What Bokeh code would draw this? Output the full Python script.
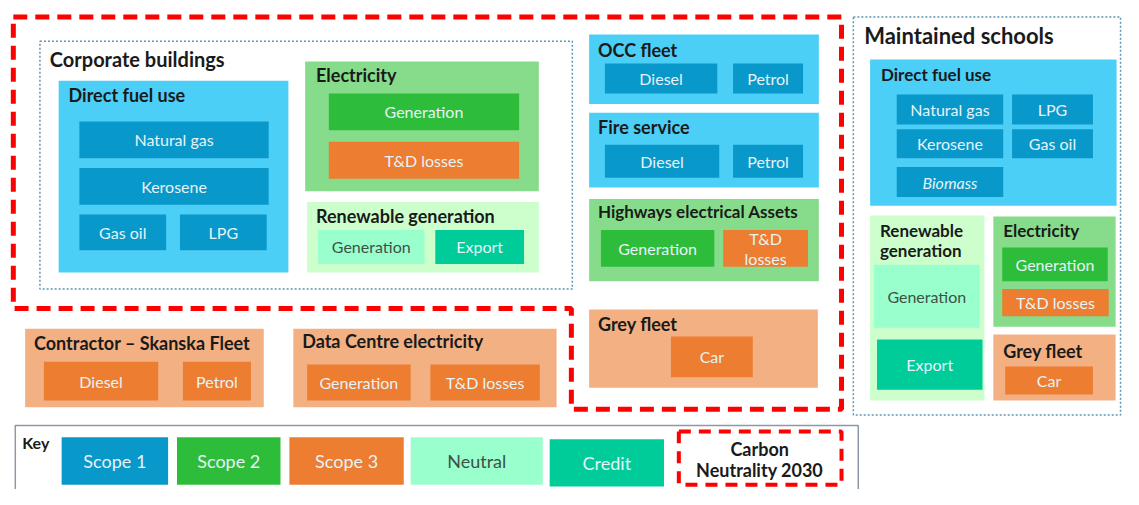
from bokeh.plotting import figure
from bokeh.models import Range1d, ColumnDataSource
from bokeh.core.properties import value
from bokeh.embed import file_html
from bokeh.resources import INLINE

FONT = "Lato"

# ---- palette (category -> colour) ----
fills = {
    "scope1": "#0898C9", "scope2": "#2EBD3A", "scope3": "#ED7D31",
    "neutral": "#99FFCC", "credit": "#00CC99",
    "blue_c": "#4CCFF7", "green_c": "#86DC8A", "orange_c": "#F3B083", "mint_c": "#CCFFCC",
}

# ---- container boxes ----
cont_kind = ["blue_c", "green_c", "mint_c", "blue_c", "blue_c", "green_c", "orange_c",
             "blue_c", "mint_c", "green_c", "orange_c", "orange_c", "orange_c"]
cont_x0 = [59, 309, 311, 597, 597, 597, 597, 882, 882, 1007, 1007, 25, 297]
cont_x1 = [292, 546, 546, 830, 830, 830, 829, 1132, 998, 1131, 1131, 267, 564]
cont_y0 = [83, 63, 208, 35, 116, 205, 319, 61, 222, 223, 345, 339, 339]
cont_y1 = [281, 197, 281, 107, 193, 290, 400, 212, 413, 337, 413, 420, 420]

# ---- leaf boxes ----
leaf_label = ["Natural gas", "Kerosene", "Gas oil", "LPG",
              "Diesel", "Petrol", "Diesel", "Petrol",
              "Natural gas", "LPG", "Kerosene", "Gas oil", "Biomass",
              "Generation", "Generation", "Generation",
              "T&D losses", "T&D\nlosses", "Car", "T&D losses", "Car",
              "Diesel", "Petrol", "Generation", "T&D losses",
              "Generation", "Generation", "Export", "Export",
              "Scope 1", "Scope 2", "Scope 3", "Neutral", "Credit"]
leaf_kind = ["scope1"] * 13 + ["scope2"] * 3 + ["scope3"] * 9 + ["neutral"] * 2 + ["credit"] * 2 + \
            ["scope1", "scope2", "scope3", "neutral", "credit"]
leaf_x0 = [80, 80, 80, 182, 613, 743, 613, 743, 909, 1026, 909, 1026, 909,
           333, 609, 1016, 333, 733, 680, 1016, 1019, 44, 185, 311, 436,
           322, 886, 441, 889, 62, 179, 293, 416, 557]
leaf_x1 = [272, 272, 168, 270, 727, 814, 729, 814, 1017, 1108, 1017, 1108, 1017,
           526, 724, 1123, 526, 819, 763, 1124, 1108, 160, 254, 416, 547,
           430, 993, 531, 996, 170, 284, 409, 550, 673]
leaf_y0 = [125, 173, 221, 221, 65, 65, 149, 149, 97, 97, 133, 133, 172,
           96, 237, 255, 146, 237, 347, 298, 378, 373, 373, 376, 376,
           237, 273, 237, 350, 451, 451, 451, 451, 453]
leaf_y1 = [163, 211, 258, 258, 96, 96, 183, 183, 128, 128, 163, 163, 203,
           134, 275, 290, 184, 275, 389, 326, 407, 413, 413, 413, 413,
           272, 338, 272, 402, 500, 500, 500, 500, 502]

# ---- section titles ----
title_text = ["Corporate buildings", "Direct fuel use", "Electricity", "Renewable generation",
              "OCC fleet", "Fire service", "Highways electrical Assets", "Grey fleet",
              "Maintained schools", "Direct fuel use", "Renewable", "generation",
              "Electricity", "Grey fleet", "Contractor \u2013 Skanska Fleet",
              "Data Centre electricity", "Key"]
title_x = [50, 69, 320, 320, 606, 606, 606, 606, 876, 893, 892, 892, 1017, 1017, 34, 306, 22]
title_y = [60, 98, 77, 223, 51, 131, 218, 334, 36, 76, 238, 258, 238, 362, 354, 352, 456]
title_size = ["20px", "18px", "18px", "18px", "18px", "18px", "17px", "18px",
              "22px", "17px", "17px", "17px", "17px", "18px", "18px", "18px", "16px"]

# ---- outlines ----
dotted_x0 = [40, 865]
dotted_x1 = [580, 1136]
dotted_y0 = [42, 17]
dotted_y1 = [298, 428]
red_x = [13, 853, 853, 579, 579, 13, 13]
red_y = [17, 17, 422, 422, 318, 318, 17]
cn_x = [688, 853, 853, 688, 688]
cn_y = [445, 445, 500, 500, 445]

p = figure(width=1123, height=489, x_range=Range1d(0, 1139), y_range=Range1d(505, 0),
           output_backend="svg", toolbar_location=None, min_border=0)
p.axis.visible = False
p.grid.visible = False
p.outline_line_color = None
p.background_fill_color = "white"

# key box
p.quad(left=[15], right=[870], top=[439], bottom=[512], fill_color="white",
       line_color="#8C99A6", line_width=1.5)

# dotted section frames
p.quad(left=dotted_x0, right=dotted_x1, top=dotted_y0, bottom=dotted_y1, fill_color=None,
       line_color="#5B97B5", line_width=1.5, line_dash="2 2")

# containers
p.quad(source=ColumnDataSource(dict(l=cont_x0, r=cont_x1, t=cont_y0, b=cont_y1,
                                    c=[fills[k] for k in cont_kind])),
       left="l", right="r", top="t", bottom="b", fill_color="c", line_color=None)

# leaves
txt_col = ["#3E5149" if k == "neutral" else "#E6F3F8" for k in leaf_kind]
n = len(leaf_label)
lsrc = ColumnDataSource(dict(l=leaf_x0, r=leaf_x1, t=leaf_y0, b=leaf_y1,
                             c=[fills[k] for k in leaf_kind],
                             xm=[(a + b) / 2 for a, b in zip(leaf_x0, leaf_x1)],
                             ym=[(a + b) / 2 for a, b in zip(leaf_y0, leaf_y1)],
                             lab=leaf_label, tc=txt_col,
                             fs=["18px" if i >= n - 5 else "16px" for i in range(n)],
                             st=["italic" if s == "Biomass" else "normal" for s in leaf_label]))
p.quad(source=lsrc, left="l", right="r", top="t", bottom="b", fill_color="c", line_color=None)
p.text(source=lsrc, x="xm", y="ym", text="lab", text_color="tc", text_align="center",
       text_baseline="middle", text_font=value(FONT), text_font_size="fs",
       text_font_style="st", text_line_height=1.05)

# titles
tsrc = ColumnDataSource(dict(x=title_x, y=title_y, t=title_text, s=title_size))
p.text(source=tsrc, x="x", y="y", text="t", text_font_size="s", text_font=value(FONT),
       text_font_style="bold", text_color="#1A1A1A", text_baseline="middle", text_align="left")

# red carbon-neutrality outlines
p.line(red_x, red_y, line_color="#FF0000", line_width=5, line_dash="14 8")
p.line(cn_x, cn_y, line_color="#FF0000", line_width=4, line_dash="12 8")
p.text(x=[770, 770], y=[463, 485], text=["Carbon", "Neutrality 2030"], text_align="center",
       text_baseline="middle", text_font=value(FONT), text_font_style="bold",
       text_font_size="18px", text_color="#1A1A1A")

open("out.html", "w").write(file_html(p, INLINE))
